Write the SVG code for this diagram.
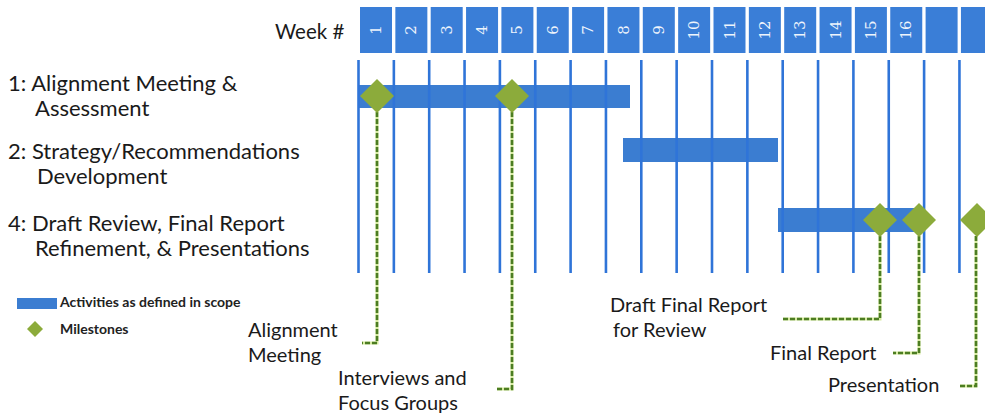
<svg xmlns="http://www.w3.org/2000/svg" width="985" height="417" viewBox="0 0 985 417">
<style>
.lbl{font-family:Lato,"Liberation Sans",sans-serif;font-size:22px;fill:#1a1a1a}
.wkl{font-family:Lato,"Liberation Sans",sans-serif;font-size:20.5px;fill:#1a1a1a}
.call{font-family:Lato,"Liberation Sans",sans-serif;font-size:20px;fill:#1a1a1a}
.leg{font-family:Lato,"Liberation Sans",sans-serif;font-size:14px;font-weight:bold;fill:#222}
.wk{fill:#3a7ed7}
.num{font-family:"DejaVu Serif",serif;font-size:15px;fill:#eef4fc;text-anchor:middle}
.vl{stroke:#2f74d8;stroke-width:2.6}
.bar{fill:#3b7dd1}
.ms{fill:#8cab3b}
.dl{fill:none;stroke:#d6ea9f;stroke-width:3}
.dd{fill:none;stroke:#4c7d22;stroke-width:2.6;stroke-dasharray:5 2}
</style>
<defs>
<polygon id="dia" points="0,-17 17,0 0,17 -17,0"/>
</defs>
<rect width="985" height="417" fill="#ffffff"/>
<g id="header">
<text class="wkl" x="275" y="39">Week #</text>
<rect class="wk" x="360" y="7" width="32" height="46"/>
<rect class="wk" x="395.35" y="7" width="32" height="46"/>
<rect class="wk" x="430.7" y="7" width="32" height="46"/>
<rect class="wk" x="466.05" y="7" width="32" height="46"/>
<rect class="wk" x="501.4" y="7" width="32" height="46"/>
<rect class="wk" x="536.75" y="7" width="32" height="46"/>
<rect class="wk" x="572.1" y="7" width="32" height="46"/>
<rect class="wk" x="607.45" y="7" width="32" height="46"/>
<rect class="wk" x="642.8" y="7" width="32" height="46"/>
<rect class="wk" x="678.15" y="7" width="32" height="46"/>
<rect class="wk" x="713.5" y="7" width="32" height="46"/>
<rect class="wk" x="748.85" y="7" width="32" height="46"/>
<rect class="wk" x="784.2" y="7" width="32" height="46"/>
<rect class="wk" x="819.55" y="7" width="32" height="46"/>
<rect class="wk" x="854.9" y="7" width="32" height="46"/>
<rect class="wk" x="890.25" y="7" width="32" height="46"/>
<rect class="wk" x="925.6" y="7" width="32" height="46"/>
<rect class="wk" x="960.95" y="7" width="32" height="46"/>
<g class="num">
<text transform="translate(381,30) rotate(-90)">1</text>
<text transform="translate(416.4,30) rotate(-90)">2</text>
<text transform="translate(451.7,30) rotate(-90)">3</text>
<text transform="translate(487.1,30) rotate(-90)">4</text>
<text transform="translate(522.4,30) rotate(-90)">5</text>
<text transform="translate(557.8,30) rotate(-90)">6</text>
<text transform="translate(593.1,30) rotate(-90)">7</text>
<text transform="translate(628.5,30) rotate(-90)">8</text>
<text transform="translate(663.8,30) rotate(-90)">9</text>
<text transform="translate(699.2,30) rotate(-90)">10</text>
<text transform="translate(734.5,30) rotate(-90)">11</text>
<text transform="translate(769.9,30) rotate(-90)">12</text>
<text transform="translate(805.2,30) rotate(-90)">13</text>
<text transform="translate(840.6,30) rotate(-90)">14</text>
<text transform="translate(875.9,30) rotate(-90)">15</text>
<text transform="translate(911.3,30) rotate(-90)">16</text>
</g>
</g>
<g id="row-labels">
<g id="row1"><text class="lbl" x="8" y="91">1: Alignment Meeting &amp;</text><text class="lbl" x="35" y="116">Assessment</text></g>
<g id="row2"><text class="lbl" x="8" y="159">2: Strategy/Recommendations</text><text class="lbl" x="37" y="184">Development</text></g>
<g id="row4"><text class="lbl" x="8" y="231">4: Draft Review, Final Report</text><text class="lbl" x="35" y="256">Refinement, &amp; Presentations</text></g>
</g>
<g id="bars">
<rect id="bar1" class="bar" x="358" y="85" width="272" height="23"/>
<rect id="bar2" class="bar" x="623" y="138" width="155" height="24"/>
<rect id="bar3" class="bar" x="778" y="208" width="137" height="24"/>
</g>
<g id="grid">
<line class="vl" x1="358.5" y1="60" x2="358.5" y2="273"/>
<line class="vl" x1="393.85" y1="60" x2="393.85" y2="273"/>
<line class="vl" x1="429.2" y1="60" x2="429.2" y2="273"/>
<line class="vl" x1="464.55" y1="60" x2="464.55" y2="273"/>
<line class="vl" x1="499.9" y1="60" x2="499.9" y2="273"/>
<line class="vl" x1="535.25" y1="60" x2="535.25" y2="273"/>
<line class="vl" x1="570.6" y1="60" x2="570.6" y2="273"/>
<line class="vl" x1="605.95" y1="60" x2="605.95" y2="273"/>
<line class="vl" x1="641.3" y1="60" x2="641.3" y2="273"/>
<line class="vl" x1="676.65" y1="60" x2="676.65" y2="273"/>
<line class="vl" x1="712" y1="60" x2="712" y2="273"/>
<line class="vl" x1="747.35" y1="60" x2="747.35" y2="273"/>
<line class="vl" x1="782.7" y1="60" x2="782.7" y2="273"/>
<line class="vl" x1="818.05" y1="60" x2="818.05" y2="273"/>
<line class="vl" x1="853.4" y1="60" x2="853.4" y2="273"/>
<line class="vl" x1="888.75" y1="60" x2="888.75" y2="273"/>
<line class="vl" x1="924.1" y1="60" x2="924.1" y2="273"/>
<line class="vl" x1="959.45" y1="60" x2="959.45" y2="273"/>
</g>
<g id="connectors">
<polyline class="dl" points="377,112 377,343 362,343"/>
<polyline class="dd" points="377,112 377,343 362,343"/>
<polyline class="dl" points="512,112 512,389 497,389"/>
<polyline class="dd" points="512,112 512,389 497,389"/>
<polyline class="dl" points="880,236 880,319 783,319"/>
<polyline class="dd" points="880,236 880,319 783,319"/>
<polyline class="dl" points="919,236 919,353 893,353"/>
<polyline class="dd" points="919,236 919,353 893,353"/>
<polyline class="dl" points="976,236 976,386 960,386"/>
<polyline class="dd" points="976,236 976,386 960,386"/>
</g>
<g id="milestones">
<use id="m1" class="ms" href="#dia" x="377" y="96"/>
<use id="m2" class="ms" href="#dia" x="512" y="96"/>
<use id="m3" class="ms" href="#dia" x="880" y="220"/>
<use id="m4" class="ms" href="#dia" x="919" y="220"/>
<use id="m5" class="ms" href="#dia" x="977" y="220"/>
</g>
<g id="legend">
<rect class="bar" x="17" y="298" width="40" height="11"/>
<text class="leg" x="60" y="307">Activities as defined in scope</text>
<polygon class="ms" points="35,321 43,329 35,337 27,329"/>
<text class="leg" x="60" y="334">Milestones</text>
</g>
<g id="callouts">
<g id="c1"><text class="call" x="248" y="337">Alignment</text><text class="call" x="248" y="362">Meeting</text></g>
<g id="c2"><text class="call" x="338" y="385">Interviews and</text><text class="call" x="338" y="410">Focus Groups</text></g>
<g id="c3"><text class="call" x="610" y="312">Draft Final Report</text><text class="call" x="613" y="337">for Review</text></g>
<g id="c4"><text class="call" x="770" y="360">Final Report</text></g>
<g id="c5"><text class="call" x="828" y="392">Presentation</text></g>
</g>
</svg>
